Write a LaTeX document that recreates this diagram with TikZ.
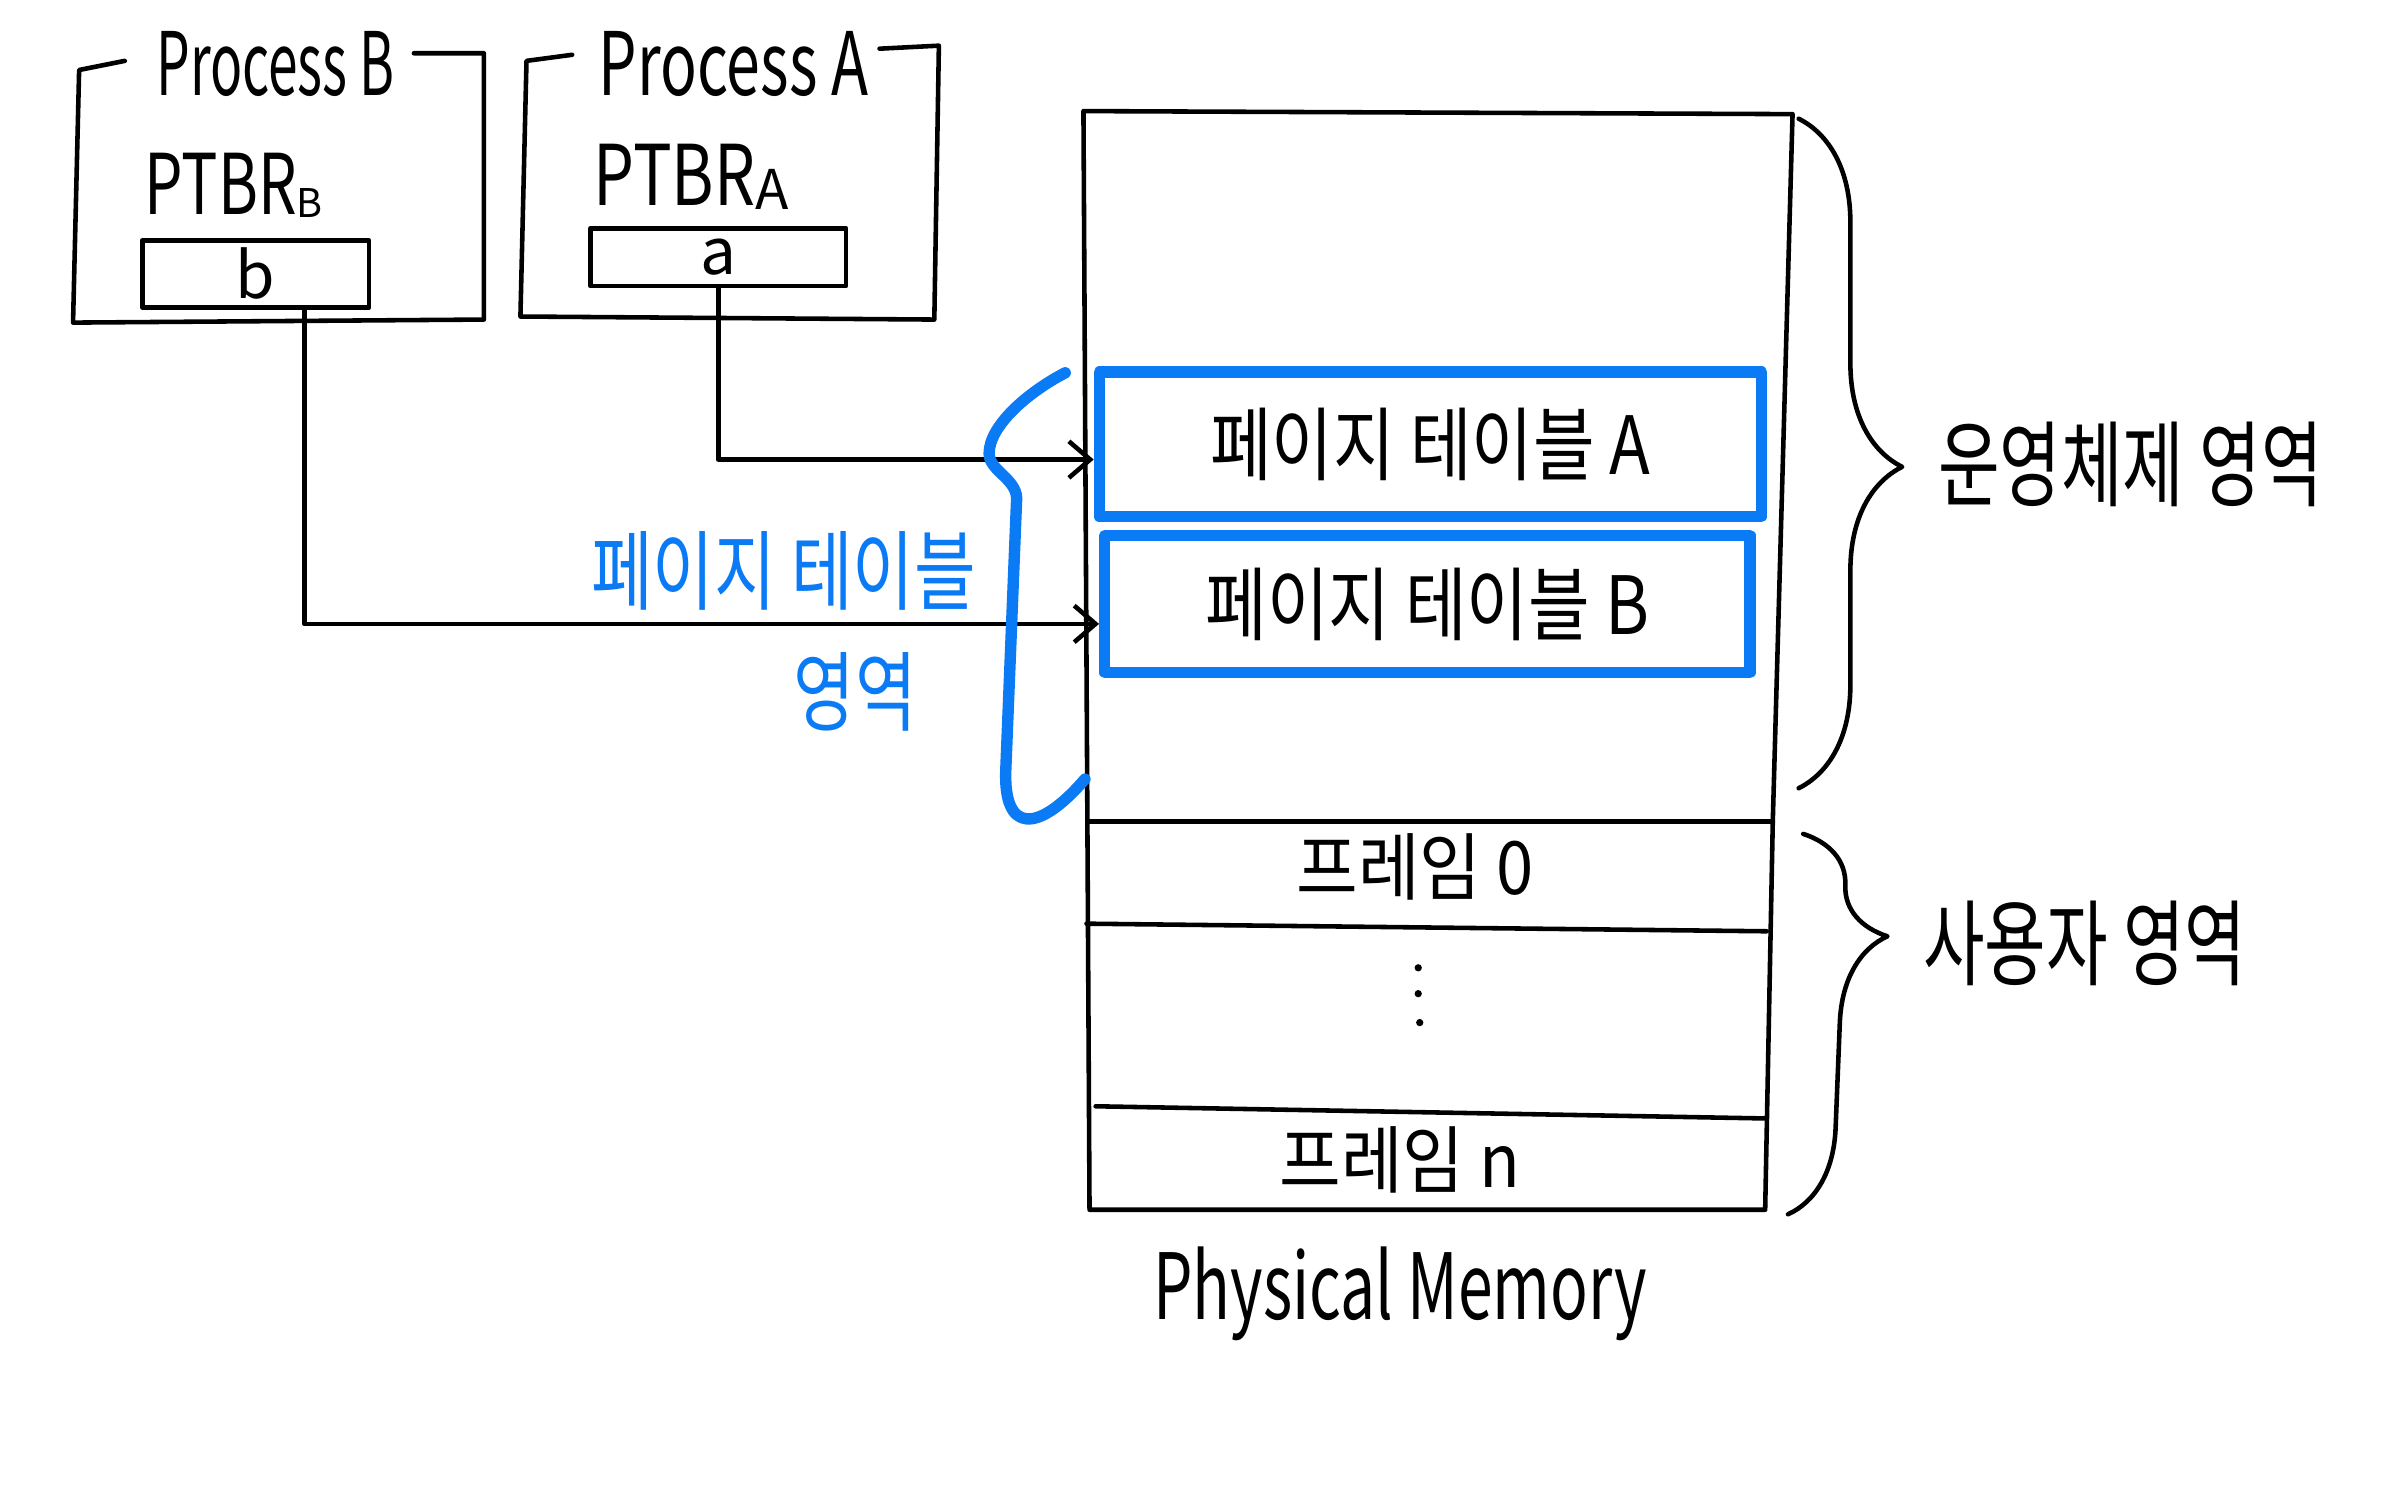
\documentclass[tikz,border=0pt]{standalone}
\usepackage{fontspec}
\usepackage{graphicx}
\setmainfont{Noto Sans CJK KR}
\usetikzlibrary{arrows.meta,decorations.pathreplacing}
\definecolor{hblue}{RGB}{10,122,245}
\newcommand\talltext[2][1.2]{\scalebox{1}[#1]{#2}}
\begin{document}
\begin{tikzpicture}[x=1pt,y=-1pt,
  ink/.style={line width=3pt,line cap=round,line join=round},
  bink/.style={line width=7.5pt,draw=hblue,line cap=round,line join=round},
  lat/.style={font=\fontsize{50}{60}\selectfont,inner sep=0pt},
  kor/.style={font=\fontsize{44}{52}\selectfont,inner sep=0pt},
  arr/.style={ink,-{Straight Barb[length=14pt,width=24pt,line width=3pt]}},
]
\useasboundingbox (0,0) rectangle (1568,980);

% Process B
\node[lat] (tB) at (181,42) {\scalebox{0.7}[1.15]{Process B}};
\draw[ink] (82,40) -- (52,46) -- (48,212) -- (318,210) -- (318,35) -- (272,35);
\node[lat,anchor=base west] (rB) at (95,141) {\scalebox{0.8}[1.1]{PTBR}\raisebox{-2pt}{\fontsize{26}{30}\selectfont B}};
\node[ink,draw,minimum width=149,minimum height=44,inner sep=0pt] (bb) at (168,180) {\fontsize{42}{50}\selectfont b};

% Process A
\node[lat] (tA) at (482,42) {\scalebox{0.8}[1.15]{Process A}};
\draw[ink] (376,36) -- (346,40) -- (342,208) -- (614,210) -- (617,30) -- (578,32);
\node[lat,anchor=base west] (rA) at (390,135) {\scalebox{0.85}[1.1]{PTBR}\raisebox{-3pt}{\fontsize{36}{40}\selectfont A}};
\node[ink,draw,minimum width=168,minimum height=38,inner sep=0pt] (ba) at (472,169) {\fontsize{42}{50}\selectfont a};

% Physical memory
\draw[ink] (712,73) -- (1178,75) -- (1165,540) -- (1160,795) -- (716,795) -- cycle;
\draw[ink] (716,540) -- (1165,540);
\draw[ink] (714,607) -- (1161,612);
\draw[ink] (720,727) -- (1160,735);

\node[bink,kor,minimum width=435,minimum height=95] (ptA) at (940,292) {\talltext{페이지 테이블 A}};
\node[bink,kor,minimum width=424,minimum height=90] (ptB) at (938,397) {\talltext{페이지 테이블 B}};

\node[kor] (f0) at (930,570) {\talltext[1.1]{프레임 0}};
\fill (932,636) circle (2.4pt) (932,653) circle (2.4pt) (933,672) circle (2.4pt);
\node[kor] (fn) at (920,762) {\talltext[1.1]{프레임 n}};
\node[lat] (pm) at (920,850) {\scalebox{0.82}[1.2]{Physical Memory}};

% arrows
\draw[arr] (ba.south) |- ([yshift=-10pt]ptA.west);
\draw[arr] ([xshift=32pt]bb.south) |- ([yshift=-13pt]ptB.west);

% blue brace (page table region)
\draw[bink] (700,245) .. controls (675,258) and (650,280) .. (650,298)
  .. controls (650,310) and (670,315) .. (668,330)
  -- (661,505) .. controls (659,548) and (682,548) .. (713,512);
\node[kor,text=hblue] (pt1) at (515,375) {\talltext[1.3]{페이지 테이블}};
\node[kor,text=hblue] (pt2) at (562,455) {\talltext[1.3]{영역}};

\draw[ink,decorate,decoration={brace,amplitude=68pt,aspect=0.52}] (1182,78) -- (1182,518);
\node[kor] (os) at (1400,305) {\talltext[1.4]{운영체제 영역}};
\draw[ink,decorate,decoration={brace,amplitude=58pt,aspect=0.26}] (1185,548) -- (1175,798);
\node[kor] (usr) at (1370,620) {\talltext[1.4]{사용자 영역}};
\end{tikzpicture}
\end{document}
